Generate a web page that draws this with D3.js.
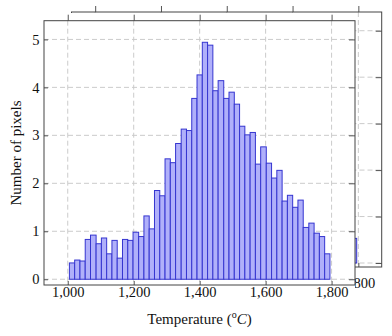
<!DOCTYPE html>
<html>
<head>
<meta charset="utf-8">
<script src="https://cdn.jsdelivr.net/npm/d3@7"></script>
<style>
body { margin: 0; background: #fff; }
svg text { font-family: "Liberation Serif", "DejaVu Serif", serif; fill: #111; }
</style>
</head>
<body>
<svg id="chart" width="392" height="336"></svg>
<script>
// histogram bins (temperature, degC) and heights
let bin_edges = [1005, 1021, 1037, 1053, 1069, 1086, 1102, 1118, 1134, 1150,
    1166, 1182, 1198, 1215, 1231, 1247, 1263, 1279, 1295, 1311,
    1327, 1344, 1360, 1376, 1392, 1408, 1424, 1440, 1456, 1473,
    1489, 1505, 1521, 1537, 1553, 1569, 1585, 1602, 1618, 1634,
    1650, 1666, 1682, 1698, 1714, 1731, 1747, 1763, 1779, 1795];
let pixel_counts = [0.34, 0.40, 0.38, 0.83, 0.92, 0.74, 0.86, 0.53, 0.81, 0.44,
    0.83, 0.81, 0.98, 0.89, 1.32, 1.05, 1.85, 1.74, 2.51, 2.43,
    2.83, 3.13, 3.10, 3.77, 4.26, 4.94, 4.88, 3.93, 4.14, 3.77,
    3.90, 3.65, 3.19, 3.01, 3.06, 2.40, 2.76, 2.42, 2.11, 2.27,
    1.63, 1.75, 1.50, 1.65, 1.08, 1.17, 0.96, 0.89, 0.53];
let x_ticks = [1000, 1200, 1400, 1600, 1800];
let y_ticks = [0, 1, 2, 3, 4, 5];

let svg = d3.select("#chart");

function drawPanel(g, box) {
    let x = d3.scaleLinear().domain([928, 1871]).range([box.left, box.right]);
    let y = d3.scaleLinear().domain([box.ymin, box.ymax]).range([box.bottom, box.top]);

    // dashed grid
    g.append("g").selectAll("line").data(x_ticks).join("line")
        .attr("x1", d => x(d)).attr("x2", d => x(d))
        .attr("y1", box.top).attr("y2", box.bottom)
        .attr("stroke", "#cbcbcb").attr("stroke-dasharray", "5,3");
    g.append("g").selectAll("line").data(y_ticks).join("line")
        .attr("x1", box.left).attr("x2", box.right)
        .attr("y1", d => y(d)).attr("y2", d => y(d))
        .attr("stroke", "#cbcbcb").attr("stroke-dasharray", "5,3");

    // bars
    g.append("g").selectAll("rect").data(pixel_counts).join("rect")
        .attr("x", (d, i) => x(bin_edges[i]))
        .attr("width", (d, i) => x(bin_edges[i + 1]) - x(bin_edges[i]))
        .attr("y", d => y(d))
        .attr("height", d => y(0) - y(d))
        .attr("fill", "#b0b0fa")
        .attr("stroke", "#3535d0")
        .attr("stroke-width", 1);

    // axes
    let bottom = g.append("g")
        .attr("transform", "translate(0," + box.bottom + ")")
        .call(d3.axisBottom(x).tickValues(x_ticks).tickFormat(d3.format(","))
            .tickSizeInner(-4).tickSizeOuter(0).tickPadding(box.xpad));
    let left = g.append("g")
        .attr("transform", "translate(" + box.left + ",0)")
        .call(d3.axisLeft(y).tickValues(y_ticks).tickFormat(d3.format("d"))
            .tickSizeInner(-4).tickSizeOuter(0).tickPadding(4.5));
    let top = g.append("g")
        .attr("transform", "translate(0," + box.top + ")")
        .call(d3.axisTop(x).tickValues(x_ticks).tickFormat("")
            .tickSizeInner(6).tickSizeOuter(0));
    let right = g.append("g")
        .attr("transform", "translate(" + box.right + ",0)")
        .call(d3.axisRight(y).tickValues(y_ticks).tickFormat("")
            .tickSizeInner(-6).tickSizeOuter(0));
    [bottom, left, top, right].forEach(a => {
        a.select(".domain").remove();
        a.selectAll(".tick line").attr("stroke", "#555");
        a.selectAll("text")
            .style("font-size", "14.5px")
            .style("font-family", "'Liberation Serif', 'DejaVu Serif', serif");
    });

    // frame
    g.append("rect")
        .attr("x", box.left).attr("y", box.top)
        .attr("width", box.right - box.left).attr("height", box.bottom - box.top)
        .attr("fill", "none").attr("stroke", "#444").attr("stroke-width", 1);
}

// copy of the plot peeking out behind
drawPanel(svg.append("g"), {left: 71.5, right: 381.7, top: 12, bottom: 267, ymin: -0.086, ymax: 5.403, xpad: 11});

// main plot, with an opaque background
let main = svg.append("g");
main.append("rect").attr("x", 0).attr("y", 13).attr("width", 355).attr("height", 323).attr("fill", "#fff");
drawPanel(main, {left: 44, right: 355, top: 20.7, bottom: 285, ymin: -0.12, ymax: 5.39, xpad: 1.5});

main.append("text")
    .attr("x", 199.5).attr("y", 323.5)
    .attr("text-anchor", "middle")
    .style("font-size", "15px")
    .call(t => {
        t.append("tspan").text("Temperature (");
        t.append("tspan").style("font-size", "10px").attr("dy", -5.5).text("o");
        t.append("tspan").attr("font-style", "italic").attr("dy", 5.5).text("C");
        t.append("tspan").text(")");
    });

main.append("text")
    .attr("transform", "translate(20.5,153) rotate(-90)")
    .attr("text-anchor", "middle")
    .style("font-size", "15px")
    .text("Number of pixels");
</script>
</body>
</html>
